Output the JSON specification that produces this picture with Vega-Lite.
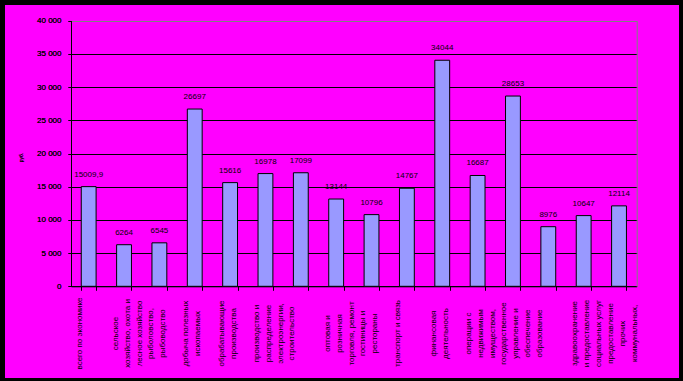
{
  "$schema": "https://vega.github.io/schema/vega-lite/v6.json",
  "autosize": {"type": "none"},
  "width": 674,
  "height": 373,
  "padding": {"left": 5, "top": 5, "right": 4, "bottom": 3},
  "background": "#000000",
  "config": {
    "view": {"fill": "#ff00ff", "stroke": null},
    "locale": {"number": {"decimal": ",", "thousands": " ", "grouping": [3], "currency": ["", ""]}},
    "font": "Liberation Sans"
  },
  "data": {
    "values": [
      {"sector": "всего по экономике", "value": 15009.9},
      {"sector": "сельское\nхозяйство, охота и\nлесное хозяйство", "value": 6264},
      {"sector": "рыболовство,\nрыбоводство", "value": 6545},
      {"sector": "добыча полезных\nископаемых", "value": 26697},
      {"sector": "обрабатывающие\nпроизводства", "value": 15616},
      {"sector": "производство и\nраспределение\nэлектроэнергии,", "value": 16978},
      {"sector": "строительство", "value": 17099},
      {"sector": "оптовая и\nрозничная\nторговля, ремонт", "value": 13144},
      {"sector": "гостиницы и\nрестораны", "value": 10796},
      {"sector": "транспорт и связь", "value": 14767},
      {"sector": "финансовая\nдеятельность", "value": 34044},
      {"sector": "операции с\nнедвижимым\nимуществом,", "value": 16687},
      {"sector": "государственное\nуправление и\nобеспечение", "value": 28653},
      {"sector": "образование", "value": 8976},
      {"sector": "здравоохранение\nи предоставление\nсоциальных услуг", "value": 10647},
      {"sector": "предоставление\nпрочих\nкоммунальных,", "value": 12114}
    ]
  },
  "encoding": {
    "x": {
      "field": "sector",
      "type": "nominal",
      "sort": null,
      "scale": {"range": [66, 631.7], "paddingInner": 0.58, "paddingOuter": 0.29},
      "axis": {
        "orient": "bottom",
        "offset": -91.7,
        "title": null,
        "labelAngle": 270,
        "labelAlign": "center",
        "labelBaseline": "middle",
        "labelPadding": 42.7,
        "labelOffset": -9,
        "labelFontSize": 8,
        "labelLineHeight": 12,
        "labelExpr": "split(datum.label, '\\n')",
        "labelOverlap": false,
        "labelBound": false,
        "labelLimit": 0,
        "labelColor": "#000000",
        "tickSize": 4,
        "tickBand": "extent",
        "tickColor": "#000000",
        "domainColor": "#000000",
        "grid": false
      }
    },
    "y": {
      "field": "value",
      "type": "quantitative",
      "scale": {"domain": [0, 40000], "range": [281.3, 15.7], "nice": false, "zero": true},
      "axis": {
        "orient": "left",
        "offset": -66,
        "values": [0, 5000, 10000, 15000, 20000, 25000, 30000, 35000, 40000],
        "format": ",d",
        "labelFontSize": 8,
        "labelColor": "#000000",
        "labelPadding": 7,
        "tickSize": 3,
        "tickColor": "#000000",
        "domainColor": "#000000",
        "grid": true,
        "gridColor": {"condition": {"test": "datum.value === 40000", "value": "#808080"}, "value": "#000000"},
        "gridOpacity": 1,
        "title": "руб.",
        "titleFontSize": 5,
        "titleFontWeight": "normal",
        "titleColor": "#000000",
        "titleAngle": 270,
        "titleX": -51,
        "titleY": 152,
        "titleAlign": "center",
        "titleBaseline": "middle"
      }
    }
  },
  "layer": [
    {"mark": {"type": "bar", "fill": "#9999ff", "stroke": "#000000", "strokeWidth": 1}},
    {
      "mark": {"type": "text", "baseline": "bottom", "dy": -8, "fontSize": 8, "color": "#000000"},
      "encoding": {"text": {"field": "value", "type": "quantitative", "format": ".6~g"}}
    },
    {
      "mark": {"type": "rule", "opacity": 0},
      "encoding": {
        "x": null,
        "y": {
          "field": "value",
          "type": "quantitative",
          "scale": {"domain": [0, 40000], "range": [281.3, 15.7], "nice": false, "zero": true},
          "axis": {"orient": "right", "offset": -42.3, "domainColor": "#808080", "labels": false, "ticks": false, "grid": false, "title": null}
        }
      }
    }
  ],
  "resolve": {"axis": {"y": "independent"}}
}
